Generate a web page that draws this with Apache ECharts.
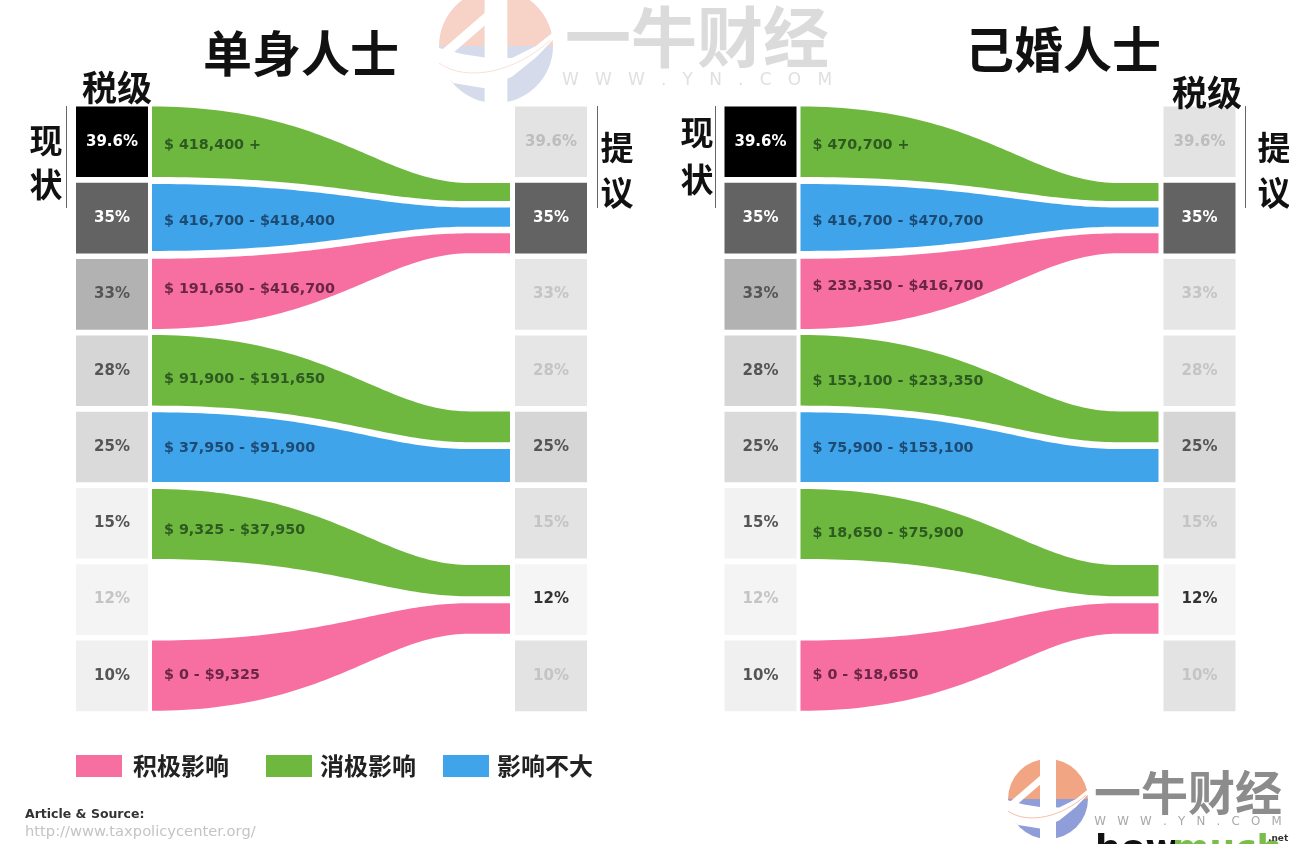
<!DOCTYPE html>
<html>
<head>
<meta charset="utf-8">
<title>税级</title>
<style>
  html, body { margin: 0; padding: 0; background: #fff; }
  #chart { width: 1289px; height: 844px; filter: blur(0.5px); }
</style>
<script src="https://cdn.jsdelivr.net/npm/echarts@6/dist/echarts.min.js"></script>
</head>
<body>
<div id="chart"></div>
<script>
// 税级，从高到低
var rates = ['39.6%', '35%', '33%', '28%', '25%', '15%', '12%', '10%'];

// 每条带子在左右两侧的上下边，单位是"行"（0 = 第一行顶部）
var bandFromTop = [0, 1.016, 1.995, 2.995, 4.008, 5.013, 7.0];
var bandFromBottom = [0.924, 1.893, 2.917, 3.92, 4.92, 5.93, 7.92];
var bandToTop = [1.002, 1.324, 1.662, 3.996, 4.49, 6.01, 6.51];
var bandToBottom = [1.24, 1.575, 1.924, 4.4, 4.92, 6.42, 6.91];

// 0 积极 1 消极 2 不大
var bandEffect = [1, 2, 0, 1, 2, 1, 0];
var effectNames = ['积极影响', '消极影响', '影响不大'];

var singleRanges = ['$ 418,400 +', '$ 416,700 - $418,400', '$ 191,650 - $416,700', '$ 91,900 - $191,650', '$ 37,950 - $91,900', '$ 9,325 - $37,950', '$ 0 - $9,325'];
var marriedRanges = ['$ 470,700 +', '$ 416,700 - $470,700', '$ 233,350 - $416,700', '$ 153,100 - $233,350', '$ 75,900 - $153,100', '$ 18,650 - $75,900', '$ 0 - $18,650'];

// 样式
var effectColors = ['#f76fa0', '#6fb83f', '#40a4ea'];
var effectTextColors = ['#6a2546', '#2c5a20', '#1d4a72'];
var currentFill = ['#000000', '#636363', '#b2b2b2', '#d6d6d6', '#dadada', '#f2f2f2', '#f4f4f4', '#f0f0f0'];
var currentText = ['#ffffff', '#ffffff', '#555555', '#555555', '#555555', '#555555', '#c4c4c4', '#555555'];
var proposedFill = ['#e3e3e3', '#636363', '#e6e6e6', '#e6e6e6', '#d6d6d6', '#e3e3e3', '#f5f5f5', '#e3e3e3'];
var proposedText = ['#bdbdbd', '#ffffff', '#c4c4c4', '#c4c4c4', '#555555', '#c4c4c4', '#333333', '#c4c4c4'];
var singleLabelShift = [3.5, 3.5, -4.5, 8.5, 1.5, 6.5, -0.5];
var marriedLabelShift = [3.5, 3.5, -7.5, 10.5, 1.5, 9.5, -0.5];

var LATIN = '"DejaVu Sans", sans-serif';
var CJK = '"Noto Sans CJK SC", sans-serif';
var CELL_W = 72;
var CELL_H = 0.925;

function bez(a, b, c, d, t) {
  var u = 1 - t;
  return u * u * u * a + 3 * u * u * t * b + 3 * u * t * t * c + t * t * t * d;
}

// 上下两条边采样成一个多边形
function edge(api, from, to, reverse) {
  var pts = [];
  for (var i = 0; i <= 60; i++) {
    var t = i / 60;
    var x = bez(0, 0.497, 0.64, 0.888, t);
    var y = from + (to - from) * bez(0, 0, 1, 1, t);
    pts.push(api.coord([x, y]));
  }
  pts.push(api.coord([1, to]));
  return reverse ? pts.reverse() : pts;
}

function renderBand(params, api) {
  var top = edge(api, api.value(0), api.value(2), false);
  var bottom = edge(api, api.value(1), api.value(3), true);
  return {
    type: 'polygon',
    shape: { points: top.concat(bottom) },
    style: api.style()
  };
}

function bandSeries(effect, grid) {
  var data = [];
  bandEffect.forEach(function (e, i) {
    if (e === effect) data.push([bandFromTop[i], bandFromBottom[i], bandToTop[i], bandToBottom[i], i]);
  });
  return {
    type: 'custom',
    name: effectNames[effect],
    xAxisIndex: grid,
    yAxisIndex: grid,
    coordinateSystem: 'cartesian2d',
    clip: false,
    silent: true,
    itemStyle: { color: effectColors[effect] },
    renderItem: renderBand,
    data: data,
    encode: { x: [], y: [0, 1, 2, 3] },
    z: 3
  };
}

function labelSeries(grid, ranges, shifts) {
  return {
    type: 'custom',
    xAxisIndex: grid,
    yAxisIndex: grid,
    clip: false,
    silent: true,
    renderItem: function (params, api) {
      var i = params.dataIndex;
      var mid = (bandFromTop[i] + bandFromBottom[i]) / 2;
      var p = api.coord([0, mid]);
      return {
        type: 'text',
        x: p[0] + 12,
        y: p[1] + shifts[i],
        style: {
          text: ranges[i],
          font: '700 14.3px ' + LATIN,
          fill: effectTextColors[bandEffect[i]],
          align: 'left',
          verticalAlign: 'middle'
        }
      };
    },
    data: ranges.map(function (r, i) { return [0, i]; }),
    z: 5
  };
}

function cellSeries(grid, side, fills, texts) {
  return {
    type: 'custom',
    xAxisIndex: grid,
    yAxisIndex: grid,
    clip: false,
    silent: true,
    renderItem: function (params, api) {
      var row = api.value(1);
      var p0 = api.coord([side, row]);
      var p1 = api.coord([side, row + CELL_H]);
      var x = side === 0 ? p0[0] - CELL_W - 4 : p0[0] + 5;
      var h = p1[1] - p0[1];
      return {
        type: 'group',
        children: [{
          type: 'rect',
          shape: { x: x, y: p0[1], width: CELL_W, height: h },
          style: { fill: fills[row] }
        }, {
          type: 'text',
          x: x + CELL_W / 2,
          y: p0[1] + h / 2,
          style: {
            text: rates[row],
            font: '700 15px ' + LATIN,
            fill: texts[row],
            align: 'center',
            verticalAlign: 'middle'
          }
        }]
      };
    },
    data: rates.map(function (r, i) { return [side, i]; }),
    z: 2
  };
}

function txt(text, x, y, size, color, weight, align, family) {
  return {
    type: 'text',
    x: x,
    y: y,
    z: 10,
    silent: true,
    style: {
      text: text,
      font: (weight || 700) + ' ' + size + 'px ' + (family || CJK),
      fill: color || '#111',
      align: align || 'center',
      verticalAlign: 'middle'
    }
  };
}

function vline(x) {
  return {
    type: 'line',
    silent: true,
    z: 10,
    shape: { x1: x, y1: 106, x2: x, y2: 208 },
    style: { stroke: '#666', lineWidth: 1 }
  };
}

// 水印图标：上半暖色、下半冷色，中间白条和白色弧带
function logo(cx, cy, r, warm, cool) {
  function at(p) {
    return [cx + r * p[0], cy + r * p[1]];
  }
  var lens = [[-1.05, 0.02], [-0.6, 0.14], [-0.2, 0.2], [0.28, 0.21], [0.7, 0], [1.05, -0.28],
    [1.05, -0.16], [0.7, 0.2], [0.28, 0.54], [-0.2, 0.74], [-0.75, 0.65], [-1.05, 0.35]];
  function half(a, b, c) {
    return { type: 'sector', silent: true, z: 1, shape: { cx: cx, cy: cy, r: r, startAngle: a, endAngle: b }, style: { fill: c } };
  }
  return [
    half(Math.PI, Math.PI * 2, warm),
    half(0, Math.PI, cool),
    { type: 'polygon', silent: true, z: 1, shape: { points: lens.map(at) }, style: { fill: '#fff' } },
    { type: 'rect', silent: true, z: 1, shape: { x: cx - r * 0.2, y: cy - r - 1, width: r * 0.4, height: 2 * r + 2 }, style: { fill: '#fff' } },
    { type: 'line', silent: true, z: 1, shape: { x1: cx - r * 0.14, y1: cy - r * 0.52, x2: cx - r * 0.88, y2: cy + r * 0.12 }, style: { stroke: '#fff', lineWidth: r * 0.17 } },
    { type: 'bezierCurve', silent: true, z: 1, shape: { x1: cx - r * 1.0, y1: cy + r * 0.3, cpx1: cx - r * 0.5, cpy1: cy + r * 0.65, x2: cx + r * 0.95, y2: cy - r * 0.1, cpx2: cx + r * 0.35, cpy2: cy + r * 0.45 }, style: { stroke: warm, fill: null, opacity: 0.7, lineWidth: 1 } }
  ];
}

var WWW = 'W   W   W   .   Y   N   .   C   O   M';

var elements = [
  txt('单身人士', 301, 53, 49),
  txt('己婚人士', 1063, 49, 49),
  txt('税级', 117, 88, 35),
  txt('税级', 1207, 93, 35),
  txt('现', 46, 140, 33), txt('状', 46, 184, 33),
  txt('提', 617, 147, 33), txt('议', 617, 192, 33),
  txt('现', 697, 132, 33), txt('状', 697, 179, 33),
  txt('提', 1274, 147, 33), txt('议', 1274, 192, 33),
  vline(66.5), vline(597.5), vline(715.5), vline(1245.5),
  txt('Article & Source:', 25, 815, 12.5, '#333', 700, 'left', LATIN),
  txt('http://www.taxpolicycenter.org/', 25, 832, 14.7, '#c4c4c4', 400, 'left', LATIN),
  txt('一牛财经', 697, 37, 66, '#dbdbdb'),
  txt(WWW, 697, 81, 17, '#e0e0e0', 400, 'center', LATIN),
  txt('一牛财经', 1188, 792, 47, '#8c8c8c'),
  txt(WWW, 1188, 822, 11.8, '#a8a8a8', 400, 'center', LATIN),
  txt('how', 1095, 851, 36, '#111', 700, 'left', LATIN),
  txt('much', 1172, 851, 36, '#7bbd4a', 700, 'left', LATIN),
  txt('.net', 1268, 839, 9, '#333', 700, 'left', LATIN)
].concat(logo(496, 46, 57, '#f6d3c6', '#d5dbea'))
 .concat(logo(1048, 799, 40, '#f2a582', '#8f9dd8'));

var series = [];
[[0, singleRanges, singleLabelShift], [1, marriedRanges, marriedLabelShift]].forEach(function (p) {
  series.push(cellSeries(p[0], 0, currentFill, currentText));
  series.push(cellSeries(p[0], 1, proposedFill, proposedText));
  effectNames.forEach(function (n, e) {
    series.push(bandSeries(e, p[0]));
  });
  series.push(labelSeries(p[0], p[1], p[2]));
});

function legendAt(name, left, textTop, textLeft) {
  return {
    left: left,
    top: 754,
    padding: 0,
    orient: 'horizontal',
    selectedMode: false,
    itemWidth: 46,
    itemHeight: 22,
    icon: 'rect',
    data: [name],
    textStyle: {
      fontFamily: CJK,
      fontWeight: 700,
      fontSize: 24,
      color: '#222',
      padding: [textTop, 0, 0, textLeft]
    }
  };
}

var hiddenAxis = { show: false, type: 'value', min: 0, max: 1 };
var rowAxis = { show: false, type: 'value', min: 0, max: 8, inverse: true };

var chart = echarts.init(document.getElementById('chart'));
chart.setOption({
  animation: false,
  backgroundColor: '#fff',
  grid: [
    { left: 152, top: 106.5, width: 358, height: 610.4 },
    { left: 800.5, top: 106.5, width: 358, height: 610.4 }
  ],
  xAxis: [Object.assign({ gridIndex: 0 }, hiddenAxis), Object.assign({ gridIndex: 1 }, hiddenAxis)],
  yAxis: [Object.assign({ gridIndex: 0 }, rowAxis), Object.assign({ gridIndex: 1 }, rowAxis)],
  legend: [legendAt('积极影响', 76, 0, 6), legendAt('消极影响', 266, 0, 3), legendAt('影响不大', 443, 6, 3)],
  graphic: { elements: elements },
  series: series
});
</script>
</body>
</html>
